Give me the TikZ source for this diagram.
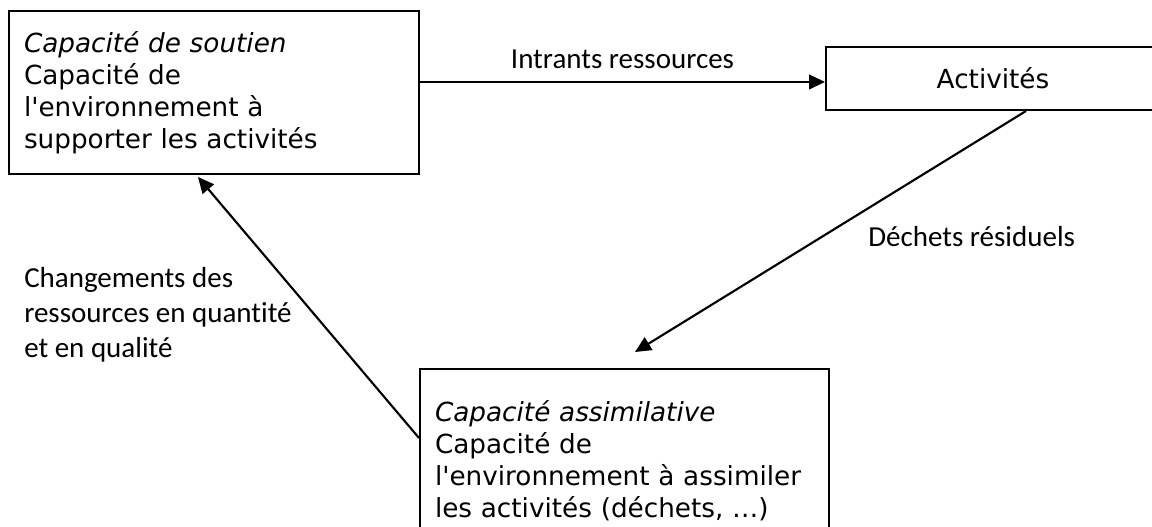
\documentclass[tikz,border=0pt]{standalone}
\usepackage{fontspec}
\setmainfont{DejaVu Sans}
\newfontfamily\calibri[Ligatures=NoCommon]{Carlito}
\usetikzlibrary{arrows.meta}

\begin{document}
\begin{tikzpicture}[x=0.75pt,y=-0.75pt,>={Triangle[length=12pt,width=11pt]},
  box node/.style={draw,line width=1.5pt,align=left,inner xsep=11.25pt,inner ysep=0pt,
    font=\fontsize{19.7}{24}\selectfont},
  label node/.style={font=\calibri\fontsize{21.75}{26.25}\selectfont,inner sep=0pt},
  flow/.style={->,line width=1.6pt}]
  \useasboundingbox (0,0) rectangle (1152,527);
  \node[box node,text width=285pt,minimum height=122.25pt] (soutien) at (214,92.5)
    {\textit{Capacité de soutien}\\Capacité de\\l\textquotesingle environnement à\\supporter les activités};
  \node[box node,align=center,minimum width=250.5pt,minimum height=47.25pt]
    (activites) at (993,78.5) {Activités};
  \node[box node,text width=284.25pt,minimum height=138pt,anchor=north west]
    (assim) at (419,368)
    {\textit{Capacité assimilative}\\Capacité de\\l\textquotesingle environnement à assimiler\\les activités (déchets, \dots)};
  \coordinate (wastetip)  at (635,352);
  \coordinate (changetip) at (198,177);
  \node[label node,anchor=west] (wastelbl) at (868,237) {Déchets résiduels};
  \node[label node,align=left,anchor=west] (changelbl) at (24,315)
    {Changements des\\ressources en quantité\\et en qualité};
  \draw[flow] ([yshift=-2.6pt]soutien.east |- activites.west) -- ([yshift=-2.6pt]activites.west)
    node[label node,midway,above=9pt] (inputlbl) {Intrants ressources};
  \draw[flow] ([xshift=24.75pt]activites.south) -- (wastetip);
  \draw[flow] ([yshift=17.25pt]assim.west) -- (changetip);
\end{tikzpicture}
\end{document}
